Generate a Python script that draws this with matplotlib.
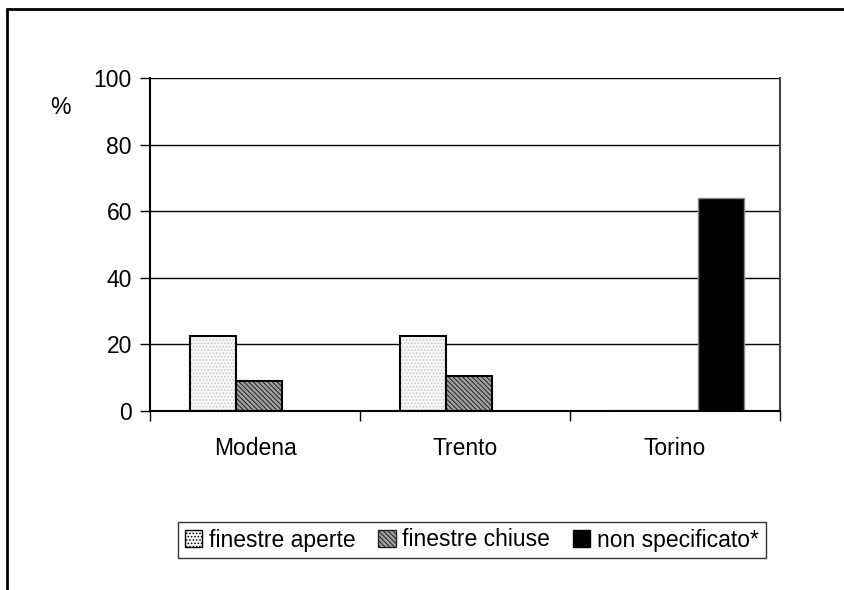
import matplotlib.pyplot as plt
import matplotlib.patches as mpatches
import numpy as np

plt.rcParams['font.family'] = ['Liberation Sans', 'DejaVu Sans']
plt.rcParams['hatch.linewidth'] = 0.7

cities = ['Modena', 'Trento', 'Torino']
aperte = [22.5, 22.5, 0]
chiuse = [9, 10.5, 0]
non_spec = [0, 0, 64]
yticks = [0, 20, 40, 60, 80, 100]

fig = plt.figure(figsize=(8.44, 5.90), dpi=100)
W, H = 844, 590
ax = fig.add_axes([150 / W, 1 - 411 / H, 630 / W, 333 / H])

# outer frame of the chart (right and bottom run past the picture)
fig.patches.append(mpatches.Rectangle((7 / W, -0.05), 1.1, 1 - 9 / H + 0.05,
                                      transform=fig.transFigure, fill=False,
                                      edgecolor='black', linewidth=2, zorder=0))

x = np.arange(len(cities))
w = 0.22
# light stipple fill, then black outline on top
ax.bar(x - w + 0.02, aperte, w, color='#f7f7f7', edgecolor='#c8c8c8', linewidth=0,
       hatch='.....')
ax.bar(x - w + 0.02, aperte, w, fill=False, edgecolor='black', linewidth=1.5)
ax.bar(x + 0.02, chiuse, w, color='#a0a0a0', edgecolor='#222222', linewidth=0,
       hatch='\\\\\\\\\\\\\\')
ax.bar(x + 0.02, chiuse, w, fill=False, edgecolor='black', linewidth=1.5)
ax.bar(x + w, non_spec, w, color='black', edgecolor='#888888', linewidth=1)

ax.set_xlim(-0.5, 2.5)
ax.set_ylim(0, 100)
ax.set_yticks(yticks)
ax.yaxis.grid(True, color='black', linewidth=1)
ax.set_axisbelow(True)
ax.set_xticks([-0.5, 0.5, 1.5, 2.5])
ax.set_xticklabels([])
ax.set_xticks(x, minor=True)
ax.set_xticklabels(cities, minor=True, fontsize=16.5)
ax.tick_params(axis='x', which='minor', length=0, pad=19)
ax.tick_params(axis='x', which='major', direction='out', length=7, width=1)
ax.tick_params(axis='y', direction='out', length=7, width=1, labelsize=16.5, pad=6)
for s in ax.spines.values():
    s.set_linewidth(1.5)
ax.spines['right'].set_color('#444444')
ax.spines['top'].set_visible(False)

fig.text(60 / W, 1 - 107 / H, '%', fontsize=16.5, ha='center', va='center')

h1 = mpatches.Patch(facecolor='#f7f7f7', edgecolor='black', linewidth=1,
                    hatch='.....')
h2 = mpatches.Patch(facecolor='#a0a0a0', edgecolor='#222222', linewidth=1,
                    hatch='\\\\\\\\\\\\\\')
h3 = mpatches.Patch(facecolor='black', edgecolor='black')
leg = fig.legend([h1, h2, h3], ['finestre aperte', 'finestre chiuse', 'non specificato*'],
                 loc='center', bbox_to_anchor=(472 / W, 1 - 540 / H), ncol=3,
                 frameon=True, fancybox=False, fontsize=16.5, handlelength=0.75,
                 handleheight=0.75, handletextpad=0.3, columnspacing=1.0,
                 borderpad=0.3, borderaxespad=0)
leg.get_frame().set_edgecolor('black')
leg.get_frame().set_linewidth(1)

fig.savefig('out.png', dpi=100)
